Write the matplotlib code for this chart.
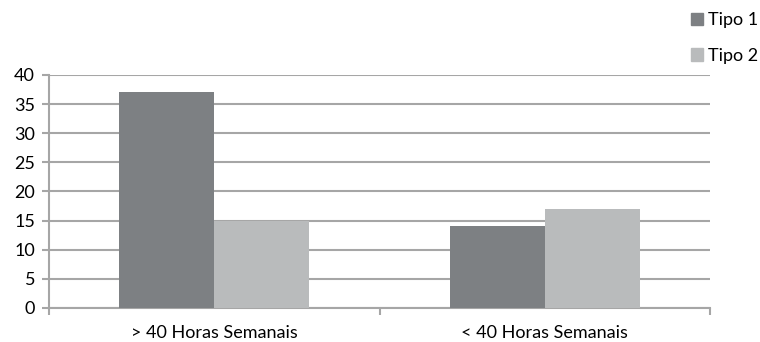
import matplotlib
matplotlib.use("Agg")
import matplotlib.pyplot as plt
from matplotlib.patches import Patch
import numpy as np

categories = ["> 40 Horas Semanais", "< 40 Horas Semanais"]
series_names = ["Tipo 1", "Tipo 2"]
tipo1 = [37, 14]
tipo2 = [15, 17]
yticks = [0, 5, 10, 15, 20, 25, 30, 35, 40]

plt.rcParams['font.family'] = ['Lato', 'DejaVu Sans']
plt.rcParams['font.size'] = 13

dark = "#7d8083"
light = "#b9bbbc"
grid = "#a6a6a6"

fig = plt.figure(figsize=(7.6, 3.42), dpi=100)
ax = fig.add_axes([49/760, 1 - 308/342, 661/760, 233/342])

x = np.arange(len(categories))
w = 0.287
ax.bar(x - w/2, tipo1, width=w, color=dark, zorder=3)
ax.bar(x + w/2, tipo2, width=w, color=light, zorder=3)

ax.set_xlim(-0.5, 1.5)
ax.set_ylim(0, 40)
ax.set_yticks(yticks)
ax.yaxis.grid(True, color=grid, linewidth=1.5, zorder=0)
ax.set_axisbelow(True)

ax.set_xticks(x)
ax.set_xticklabels(categories)
ax.tick_params(axis='x', length=0, pad=12)
ax.set_xticks([-0.5, 0.5, 1.5], minor=True)
ax.tick_params(axis='x', which='minor', length=5, color=grid, width=1.5)
ax.tick_params(axis='y', length=5, color=grid, width=1.5, pad=5)

for s in ["top", "right"]:
    ax.spines[s].set_visible(False)
ax.spines["left"].set_color(grid)
ax.spines["left"].set_linewidth(1.5)
ax.spines["bottom"].set_color(grid)
ax.spines["bottom"].set_linewidth(1.5)

handles = [Patch(color=dark), Patch(color=light)]
fig.legend(handles, series_names, loc="upper left", bbox_to_anchor=(691/760, 1 - 12/342),
           frameon=False, handlelength=0.65, handleheight=0.65, handletextpad=0.3,
           labelspacing=1.1, borderpad=0, borderaxespad=0)

fig.savefig("out.png", dpi=100)
